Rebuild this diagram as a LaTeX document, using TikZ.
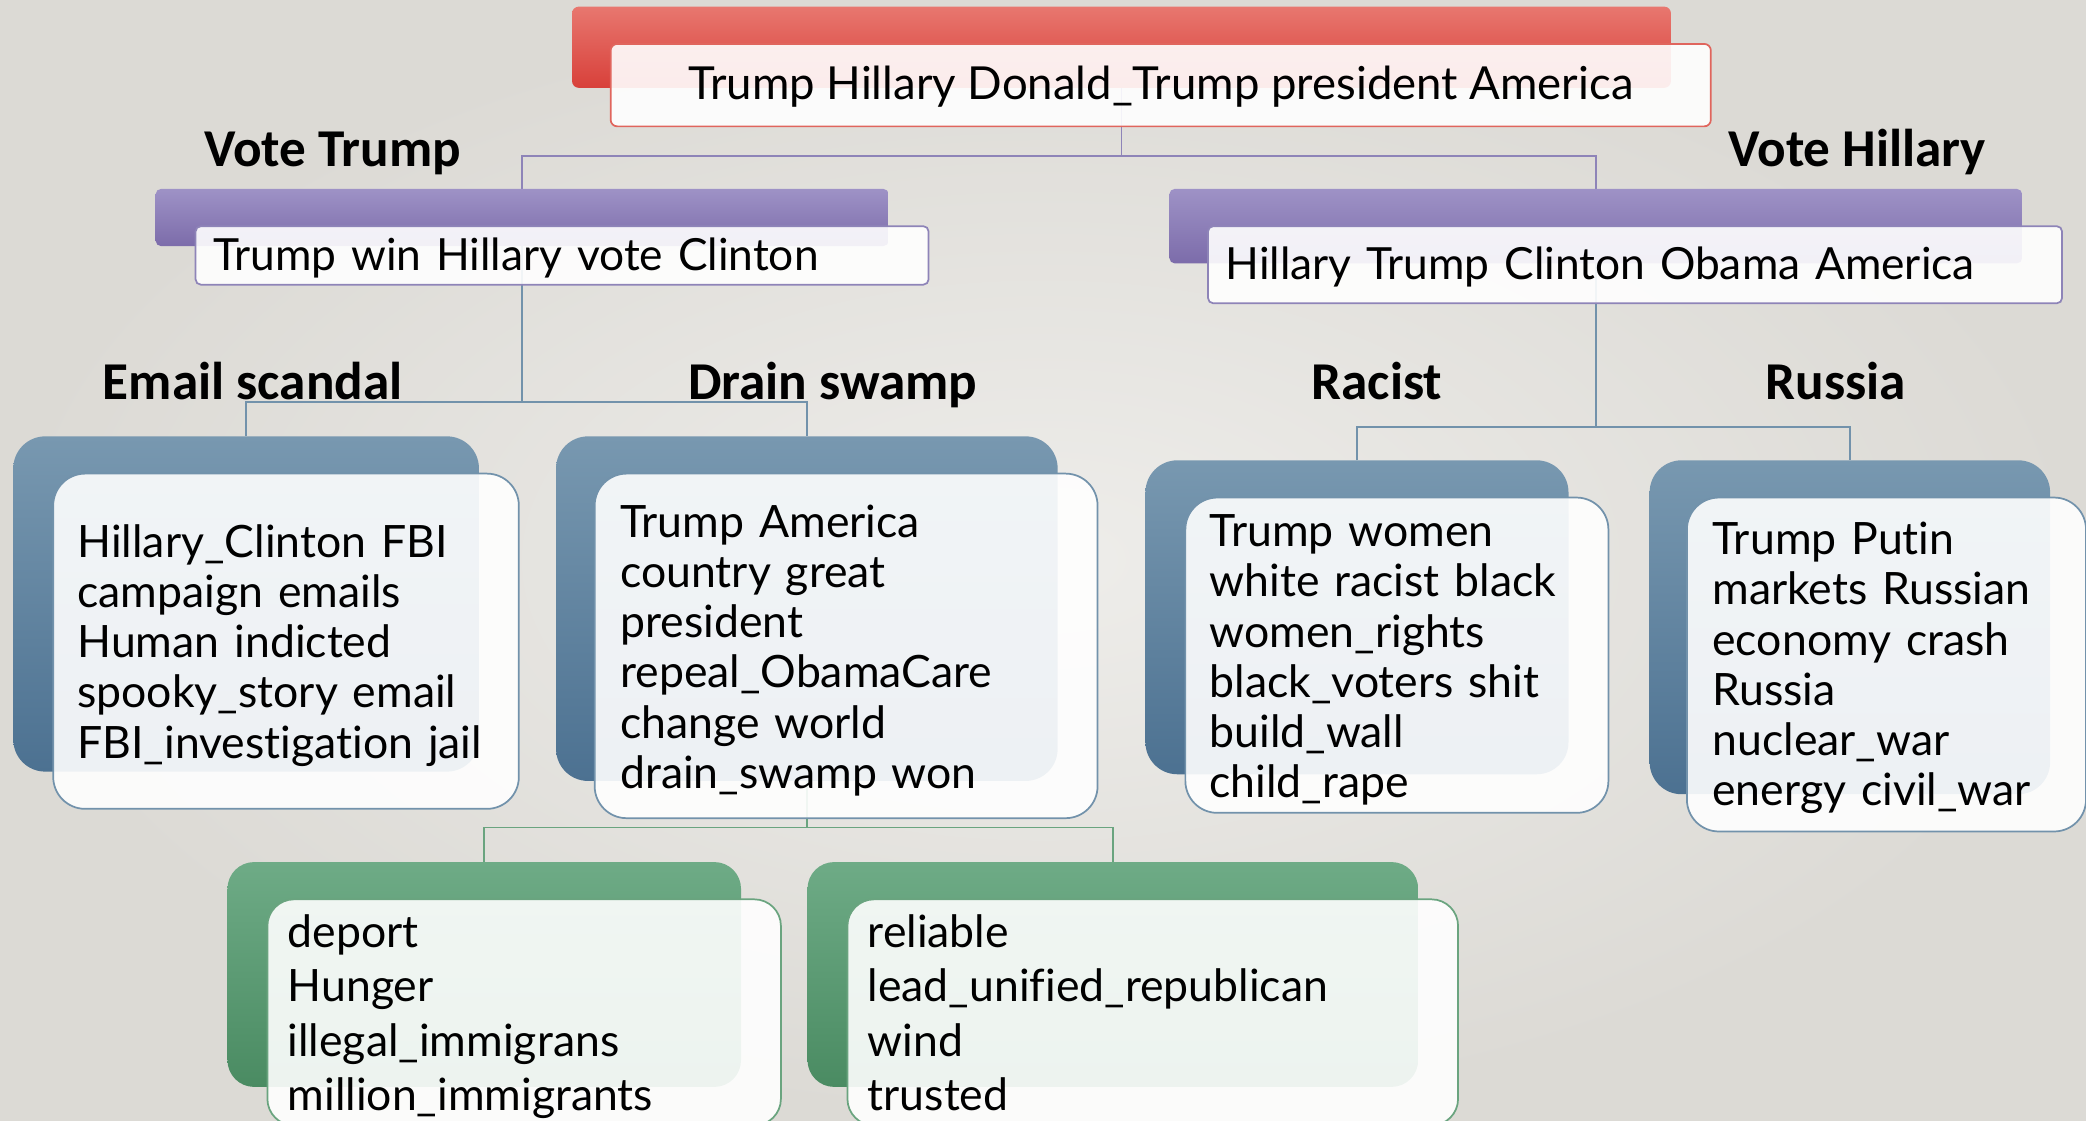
\documentclass[tikz,border=0pt]{standalone}
\usepackage{fontspec}
\setmainfont{Lato}[Ligatures={NoCommon}]
\newfontfamily\headfont{Carlito}
\usetikzlibrary{calc}

\pgfdeclarelayer{backdrop}
\pgfdeclarelayer{links}
\pgfsetlayers{backdrop,links,main}

\definecolor{bgIn}{HTML}{EEEDEA}
\definecolor{bgOut}{HTML}{DCDAD5}
\definecolor{redT}{HTML}{E8776F}
\definecolor{redB}{HTML}{D8403A}
\definecolor{redLine}{HTML}{E0655D}
\definecolor{purT}{HTML}{9E92C6}
\definecolor{purB}{HTML}{7C6CAA}
\definecolor{purLine}{HTML}{8E84B8}
\definecolor{bluT}{HTML}{7898B0}
\definecolor{bluB}{HTML}{4C7191}
\definecolor{bluLine}{HTML}{7292AB}
\definecolor{grnT}{HTML}{6EAB86}
\definecolor{grnB}{HTML}{4A8B62}
\definecolor{grnLine}{HTML}{6AA47F}

\newcommand\bodyfnt{\fontsize{33.5}{37.7}\selectfont}
\newcommand\greenfnt{\fontsize{33.5}{41}\selectfont}
\newcommand\topfnt{\fontsize{34.2}{38}\selectfont}
\newcommand\midfnt{\fontsize{33.3}{38}\selectfont}
\newcommand\labfnt{\headfont\bfseries\fontsize{40}{42}\selectfont}

\tikzset{
  boxbase/.style={anchor=north west, inner sep=0pt, outer sep=0pt},
  redback/.style={boxbase, rounded corners=5pt, top color=redT, bottom color=redB},
  purback/.style={boxbase, rounded corners=4pt, top color=purT, bottom color=purB},
  bluback/.style={boxbase, rounded corners=24pt, top color=bluT, bottom color=bluB},
  grnback/.style={boxbase, rounded corners=20pt, top color=grnT, bottom color=grnB},
  frontbox/.style={boxbase, fill=white, fill opacity=0.9, line width=1.3pt},
  redfront/.style={frontbox, rounded corners=5pt, draw=redLine},
  purfront/.style={frontbox, rounded corners=4pt, draw=purLine},
  blufront/.style={frontbox, rounded corners=24pt, draw=bluLine},
  grnfront/.style={frontbox, rounded corners=20pt, draw=grnLine},
  linktxt/.style={anchor=base west, inner sep=0pt, text width=700pt, align=left},
  label/.style={anchor=base, inner sep=0pt, font=\labfnt},
  conn/.style={line width=1.3pt},
}

\begin{document}
\begin{tikzpicture}[x=1pt, y=-1pt]
  \useasboundingbox (0,0) rectangle (1568,842);
  \begin{pgfonlayer}{backdrop}
    \shade[inner color=bgIn, outer color=bgOut] (0,0) rectangle (1568,842);
  \end{pgfonlayer}

  % root
  \node[redback, minimum width=826pt, minimum height=61pt] (topB) at (430,5) {};
  \node[redfront, minimum width=827pt, minimum height=62pt] (topF) at (459,33) {};
  \node[anchor=base, inner sep=0pt, font=\topfnt] (topT) at (872.5,75) {Trump Hillary Donald\_Trump president America};

  % second level
  \node[label] (vtL) at (250,125) {Vote Trump};
  \node[label] (vhL) at (1396,125) {Vote Hillary};

  \node[purback, minimum width=551pt, minimum height=43pt] (vtB) at (117,142) {};
  \node[purfront, minimum width=551pt, minimum height=44pt] (vtF) at (147,170) {};
  \node[linktxt, font=\midfnt] (vtT) at (160,203) {Trump win Hillary vote Clinton};

  \node[purback, minimum width=641pt, minimum height=56pt] (vhB) at (879,142) {};
  \node[purfront, minimum width=642pt, minimum height=58pt] (vhF) at (908,170) {};
  \node[linktxt, font=\midfnt] (vhT) at (921,210) {Hillary Trump Clinton Obama America};

  % third level
  \node[label] (emL) at (190,300) {Email scandal};
  \node[label] (drL) at (626,300) {Drain swamp};
  \node[label] (raL) at (1035,300) {Racist};
  \node[label] (ruL) at (1380,300) {Russia};

  \node[bluback, minimum width=350pt, minimum height=252pt] (emB) at (10,328) {};
  \node[blufront, minimum width=350pt, minimum height=252pt] (emF) at (40,356) {};
  \node[linktxt, font=\bodyfnt] (emT) at (58,419) {Hillary\_Clinton FBI\\campaign emails\\Human indicted\\spooky\_story email\\FBI\_investigation jail};

  \node[bluback, minimum width=377pt, minimum height=259pt] (drB) at (418,328) {};
  \node[blufront, minimum width=378pt, minimum height=259pt] (drF) at (447,356) {};
  \node[linktxt, font=\bodyfnt] (drT) at (466,404) {Trump America\\country great\\president\\repeal\_ObamaCare\\change world\\drain\_swamp won};

  \node[bluback, minimum width=318pt, minimum height=236pt] (raB) at (861,346) {};
  \node[blufront, minimum width=318pt, minimum height=237pt] (raF) at (891,374) {};
  \node[linktxt, font=\bodyfnt] (raT) at (909,411) {Trump women\\white racist black\\women\_rights\\black\_voters shit\\build\_wall\\child\_rape};

  \node[bluback, minimum width=301pt, minimum height=251pt] (ruB) at (1240,346) {};
  \node[blufront, minimum width=300pt, minimum height=251pt] (ruF) at (1268,374) {};
  \node[linktxt, font=\bodyfnt] (ruT) at (1287,417) {Trump Putin\\markets Russian\\economy crash\\Russia\\nuclear\_war\\energy civil\_war};

  % fourth level
  \node[grnback, minimum width=386pt, minimum height=169pt] (deB) at (171,648) {};
  \node[grnfront, minimum width=386pt, minimum height=170pt] (deF) at (201,676) {};
  \node[linktxt, font=\greenfnt] (deT) at (216,712) {deport\\Hunger\\illegal\_immigrans\\million\_immigrants};

  \node[grnback, minimum width=459pt, minimum height=169pt] (reB) at (607,648) {};
  \node[grnfront, minimum width=459pt, minimum height=170pt] (reF) at (637,676) {};
  \node[linktxt, font=\greenfnt] (reT) at (652,712) {reliable\\lead\_unified\_republican\\wind\\trusted};

  % connectors, kept behind the boxes
  \coordinate (jT) at (topB.center |- 0,117);
  \coordinate (jV) at (vtB.center |- 0,302);
  \coordinate (jH) at (vhB.center |- 0,321);
  \coordinate (jD) at (drB.center |- 0,622);
  \begin{pgfonlayer}{links}
    \draw[conn, purLine] (topB.center) -- (jT);
    \draw[conn, purLine] (vtB.north) |- (jT) -| (vhB.north);
    \draw[conn, bluLine] (vtB.center) -- (jV);
    \draw[conn, bluLine] (emB.north) |- (jV) -| (drB.north);
    \draw[conn, bluLine] (vhB.center) -- (jH);
    \draw[conn, bluLine] (raB.north) |- (jH) -| (ruB.north);
    \draw[conn, grnLine] (drB.center) -- (jD);
    \draw[conn, grnLine] (deB.north) |- (jD) -| (reB.north);
  \end{pgfonlayer}
\end{tikzpicture}
\end{document}
